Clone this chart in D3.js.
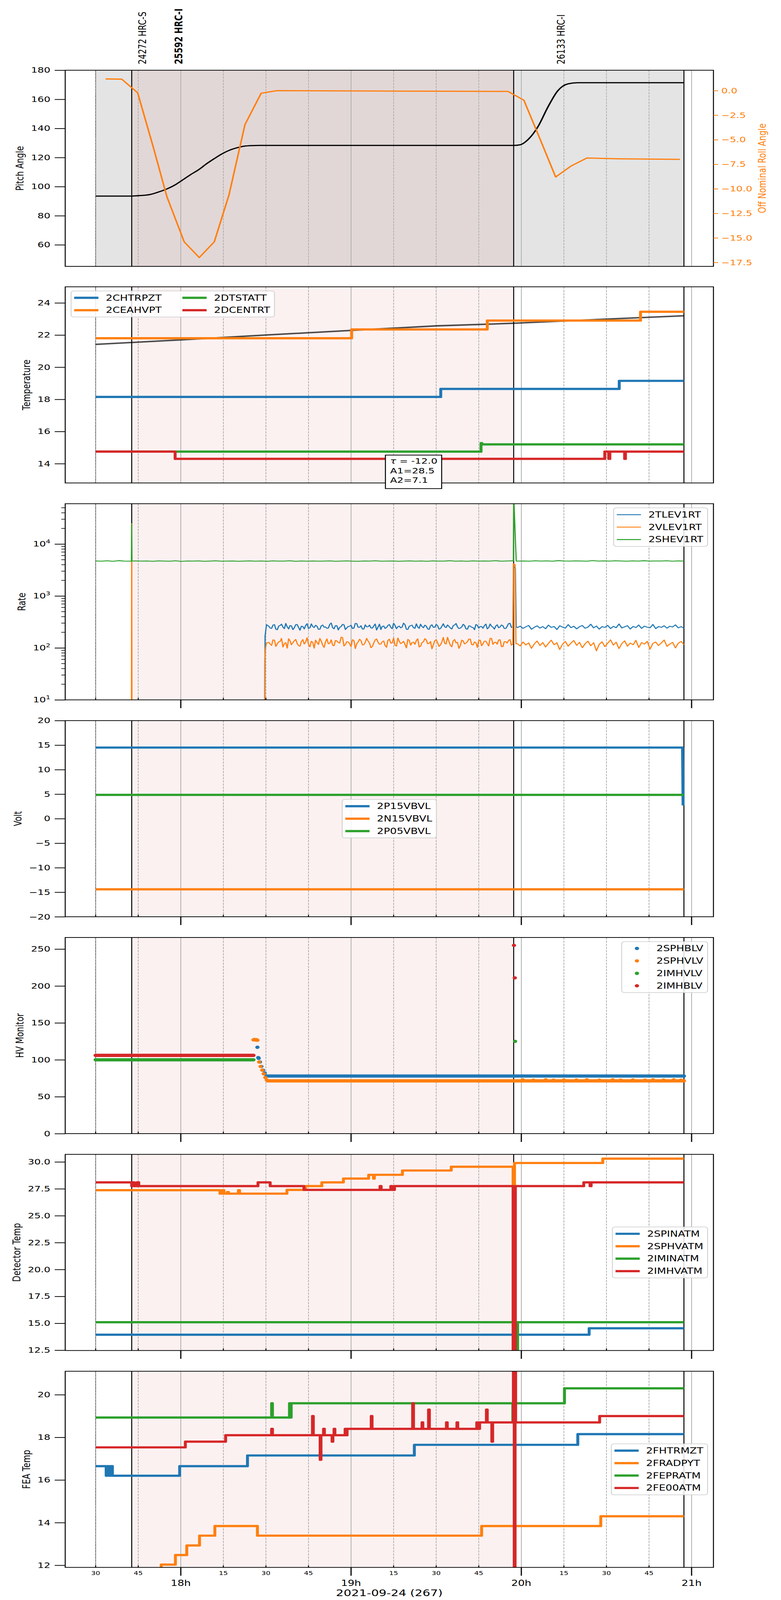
<!DOCTYPE html>
<html><head><meta charset="utf-8">
<script src="https://cdn.jsdelivr.net/npm/d3@7/dist/d3.min.js"></script>
<style>html,body{margin:0;padding:0;background:#fff;overflow:hidden}svg{display:block}</style>
</head><body><div id="chart"></div>
<script>
// ================= DATA (times in minutes after 17:00 on 2021-09-24) =================
const xMajorTicks=[60,120,180,240];
const xMajorLabels=["18h","19h","20h","21h"];
const xMinorTicks=[30,45,75,90,105,135,150,165,195,210,225];
const xMinorLabels=["30","45","15","30","45","15","30","45","15","30","45"];
const xAxisTitle="2021-09-24 (267)";

const obsidNames=["24272 HRC-S","25592 HRC-I","26133 HRC-I"];
const obsidTimes=[46.4,59.2,193.9];
const obsidBold=[false,true,false];

const dataStart=30, obsLineTimes=[42.7,177.3,237.3];
const shadeGrey=[30,237.3];
const shadePink=[42.7,177.3];

// Panel 1 : Pitch / Off nominal roll
const pitch=[[30,93.5],[42.6,93.5],[45.0,93.8],[48.95,94.5],[52,96.2],[55.09,98.4],[58,101.2],[60.35,104.2],[63.5,108.3],[66.5,111.9],[69,115.6],[71.76,119.2],[74.5,122.5],[77.03,124.9],[80,126.8],[82.3,127.8],[85,128.2],[87.56,128.3],[177.3,128.3],[179.7,128.8],[182.3,132.2],[185.9,141.3],[189.4,154.8],[192.9,166],[196.4,170.6],[199.9,171.4],[237.3,171.4]];
const roll=[[33.5,1.19],[39.2,1.17],[44.8,-0.22],[50.4,-5.85],[55.1,-10.8],[61.2,-15.4],[66.5,-17.0],[71.8,-15.4],[77.0,-10.6],[82.6,-3.47],[88.3,-0.27],[93.9,0.0],[120,-0.03],[150,-0.06],[175.3,-0.08],[180.9,-0.97],[186.7,-5.0],[192.1,-8.8],[197.4,-7.7],[203.1,-6.86],[213.9,-6.94],[225,-6.97],[235.9,-7.0]];
const pitchTicks=[60,80,100,120,140,160,180];
const rollTicks=[0,-2.5,-5,-7.5,-10,-12.5,-15,-17.5];

// Panel 2 : Temperature
const chtrpzt=[[30,18.15],[151.6,18.65],[214.5,19.15],[237.3,19.15]];
const ceahvpt=[[30,21.8],[120.2,22.35],[168,22.9],[222,23.45],[237.3,23.45]];
const dtstatt=[[30,14.75],[165.8,15.28],[166.1,15.2],[237.3,15.2]];
const dcentrt=[[30,14.75],[58,14.3],[209.4,14.75],[210.8,14.3],[211.2,14.75],[216.4,14.3],[216.7,14.75],[237.3,14.75]];
const tempFit=[[30,21.42],[60,21.7],[90,22.0],[120,22.29],[150,22.57],[177,22.73],[210,22.99],[237.3,23.2]];
const fitNote=["= -12.0","A1=28.5","A2=7.1"];
const tempTicks=[14,16,18,20,22,24];

// Panel 3 : Rate
const tlevA=[262,238,281,224,270,251,296,232,265,244,283,219,258,271,236,290,247,262,229,276,254,241,302,233,268,249,285,226,259,273,240,294,250,231,278,256,243,265,221,287,260,237,272,248,299,234,263,252,280,227,269,245,291,238,257,274,232,266,249,284,230,261,255,277,242,268,295,236,253,271,229,263,247,282,240,258,270,233,289,251,264,244,276,237,260,298,255];
const tlevA2=[241,276,229,263,287,235,254,270,225,281,248,262,232,293,244,257,273,228,266,251,238,284,246,269,222,258,279,243,261,236,297,249,267,231,255,275,240,289,252,226,264,247,282,234,271,256,243,300,229,260,274,238,252,286,245,263,227,279,250,268,235,292,247,259,231,277,254,241,285,233,266,250,224,273,258,239,288,245,262,230,279,253,268,236,294,248];
const tlevB=[246,262,238,255,271,229,250,266,241,258,234,275,248,259,226,267,252,240,281,245,261,233,256,270,239,251,286,243,264,230,257,248,272,236,260,245,289,242,254,268,231,259,247,276,238,263,250,244,283,235,258,249,267,240,262,253,278,243,257,239];
const vlevA=[128,112,141,119,133,104,126,150,115,137,122,108,145,129,117,134,99,127,152,113,131,120,143,110,136,124,158,116,130,106,139,121,147,114,128,135,101,125,149,118,132,111,140,123,155,109,134,126,117,146,113,129,138,104,127,151,120,133,115,144,107,130,122,160,112,137,125,98,141,119,131,148,114,126,139,110,135,121,153,117,129,142,106,132,124,145,118];
const vlevA2=[118,143,107,131,152,121,99,137,126,146,111,133,119,157,105,128,141,116,135,102,149,123,113,139,127,161,109,132,120,144,97,130,138,115,153,124,106,142,129,118,136,103,147,125,112,155,121,134,100,140,127,117,150,108,131,143,122,96,138,126,114,159,119,133,105,145,128,111,137,124,148,116,130,102,141,121,135,109,152,127,118,144,106,132,139,113];
const vlevB=[121,109,130,114,125,98,119,136,111,127,104,122,141,115,126,93,118,133,108,124,139,112,128,101,120,135,110,126,88,117,131,106,123,143,113,129,97,121,137,108,124,115,140,102,127,118,134,95,122,130,111,125,142,107,119,128,100,123,133,116];
const shevVals=[4720,4680,4760,4650,4790,4700,4670,4740,4690,4710,4650,4730,4700,4680,4760,4640,4710,4690,4730,4660,4700,4750,4670,4690,4720,4650,4700,4740,4680,4710,4660,4730,4690,4700,4760,4650,4710,4680,4720,4670,4700,4740,4660,4690,4730,4680,4650,4710,4700,4760,4670,4690,4720,4660,4700,4740,4680,4710,4650,4730,4690,4700,4770,4680,4710,4660,4740,4690,4720,4700,4780,4670,4710,4750,4690,4720,4680,4760,4700,4730,4670,4790,4710,4690,4740,4720,4680,4800,4700,4730,4690,4760,4710,4680,4740,4700,4770,4690,4720,4710,4750,4680,4730,4700];
const tlevEvents=[[30,1],[89.5,1],[89.7,170],[90.2,280],[177.3,3700],[177.9,3400],[178.2,255]];
const vlevEvents=[[30,1],[42.6,1],[42.7,24500],[42.8,1],[89.5,1],[89.6,60],[89.8,95],[90.2,125],[177.2,4200],[177.8,4000],[178.1,120]];
const shevEvents=[[42.6,4700],[42.7,24000],[42.8,4700],[177.2,4700],[177.3,90000],[178.2,4700]];
const rateTicks=[10,100,1000,10000];

// Panel 4 : Volt
const p15vbvl=[[30,14.5],[236.8,14.5],[237.0,2.7]];
const n15vbvl=[[30,-14.4],[237.3,-14.4]];
const p05vbvl=[[30,4.85],[237.3,4.85]];
const voltTicks=[-20,-15,-10,-5,0,5,10,15,20];

// Panel 5 : HV Monitor (runs = [start,end,value] of continuous samples, pts = single samples)
const sphblvRuns=[[90.5,237.3,78]];
const sphblvPts=[[87.0,117],[87.3,103],[87.45,102],[87.9,97],[88.4,91],[89.0,86],[89.6,82],[90.2,78]];
const sphvlvRuns=[[90.6,237.3,71.5]];
const sphvlvPts=[[85.6,127],[85.9,127.6],[86.3,126.8],[86.7,127.3],[87.0,126.5],[87.6,97],[88.1,91],[88.7,86],[89.2,81],[89.8,76],[90.3,72.5],[180.5,72.8],[184.2,72.5],[188.6,72.9],[191.3,72.4],[195.0,72.7],[199.4,72.6],[203.1,72.9],[207.5,72.5],[212.2,72.8],[215.0,72.4],[219.3,72.7],[223.6,72.5],[226.4,72.9],[230.1,72.6],[233.7,72.8],[236.2,72.5]];
const imhvlvRuns=[[30,85.6,100]];
const imhvlvPts=[[177.8,125]];
const imhblvRuns=[[30,85.6,106]];
const imhblvPts=[[177.4,255],[177.7,211]];
const hvTicks=[0,50,100,150,200,250];

// Panel 6 : Detector Temp
const spinatm=[[30,13.94],[203.9,14.54],[237.3,14.54]];
const sphvatm=[[30,27.37],[73.8,27.05],[74.6,27.37],[75.2,27.05],[76.4,27.2],[76.8,27.05],[80.3,27.37],[80.7,27.05],[97.4,27.4],[104.0,27.75],[109.7,28.1],[117.3,28.45],[126.2,28.8],[127.9,28.45],[128.2,28.8],[138.1,29.2],[155.3,29.55],[177.1,27.6],[177.6,29.9],[208.7,30.3],[237.3,30.3]];
const iminatm=[[30,15.1],[178.4,10],[178.7,15.1],[237.3,15.1]];
const imhvatm=[[30,28.1],[42.7,27.75],[43.2,28.1],[43.6,27.75],[44.5,28.1],[45.2,27.75],[87.2,28.1],[91.5,27.75],[103.4,27.4],[130.2,27.75],[130.6,27.4],[134.0,27.75],[134.5,27.4],[135.3,27.75],[177.1,5],[177.9,27.75],[202.0,28.1],[204.2,27.75],[204.6,28.1],[237.3,28.1]];
const detTicks=[12.5,15,17.5,20,22.5,25,27.5,30];

// Panel 7 : FEA Temp
const fhtrmzt=[[30,16.65],[33.7,16.2],[34.1,16.65],[34.8,16.2],[35.3,16.65],[35.9,16.2],[59.6,16.65],[83.5,17.15],[142.3,17.65],[199.9,18.15],[237.3,18.15]];
const fradpyt=[[30,11.3],[53.1,12.03],[58.1,12.48],[62.1,12.93],[66.6,13.39],[72.0,13.84],[87.0,13.39],[166.0,13.84],[208.0,14.3],[237.3,14.3]];
const fepratm=[[30,18.93],[92.0,19.6],[92.3,18.93],[98.3,19.6],[98.6,18.93],[98.9,19.6],[177.0,18.7],[177.3,19.6],[195.2,20.3],[237.3,20.3]];
const fe00atm=[[30,17.53],[61.6,17.8],[75.8,18.1],[92.0,18.4],[92.3,18.1],[106.4,19.0],[106.7,18.1],[109.1,16.95],[109.4,18.1],[110.3,18.4],[110.6,18.1],[113.3,17.8],[113.6,18.1],[114.0,18.4],[114.3,18.1],[117.9,18.4],[118.3,18.1],[118.6,18.4],[127.1,19.0],[127.4,18.4],[141.7,19.6],[142.0,18.4],[145.0,18.7],[145.3,18.4],[147.3,19.3],[147.6,18.4],[153.6,18.7],[153.9,18.4],[157.3,18.7],[157.6,18.4],[164.3,18.7],[164.7,18.4],[165.3,18.7],[167.7,19.3],[168.0,18.7],[169.6,17.8],[169.9,18.7],[177.2,30],[177.5,0],[177.8,30],[178.0,18.7],[207.6,19.0],[237.3,19.0]];
const feaTicks=[12,14,16,18,20];

// ================= LAYOUT / STYLE =================
const W=2000,H=5400;
const FONT='"DejaVu Sans", Verdana, sans-serif';
const C={blue:"#1f77b4",orange:"#ff7f0e",green:"#2ca02c",red:"#d62728"};
const L={left:167,right:1827,tops:[237,968,1700,2432,3164,3896,4628],h:662,rightLabelX:1952};
// the drawing is laid out on a 2000x5400 canvas and fitted to whatever viewport the browser really offers
const vw=window.innerWidth||W, vh=window.innerHeight||H;
const svg=d3.select("#chart").append("svg").attr("viewBox",`0 0 ${W} ${H}`).attr("preserveAspectRatio","none")
  .attr("width",vw).attr("height",vh).style("background","#fff");
const x=d3.scaleLinear().domain([19.27,247.7]).range([L.left,L.right]);

function spread(t0,t1,vals){return vals.map((v,i)=>[t0+i*(t1-t0)/(vals.length-1),v]);}

function makePanel(i,greyShade){
  const top=L.tops[i],bottom=top+L.h;
  const g=svg.append("g");
  const cid="clip"+i;
  svg.append("clipPath").attr("id",cid).append("rect").attr("x",L.left).attr("y",top).attr("width",L.right-L.left).attr("height",L.h);
  const bg=g.append("g").attr("clip-path",`url(#${cid})`);
  const plot=g.append("g").attr("clip-path",`url(#${cid})`);
  const fg=g.append("g");
  if(greyShade) bg.append("rect").attr("x",x(shadeGrey[0])).attr("width",x(shadeGrey[1])-x(shadeGrey[0])).attr("y",top).attr("height",L.h).attr("fill","#e4e4e4");
  bg.append("rect").attr("x",x(shadePink[0])).attr("width",x(shadePink[1])-x(shadePink[0])).attr("y",top).attr("height",L.h).attr("fill","rgba(214,39,40,0.065)");
  xMajorTicks.forEach(t=>bg.append("line").attr("x1",x(t)).attr("x2",x(t)).attr("y1",top).attr("y2",bottom).attr("stroke","#b0b0b0").attr("stroke-width",2));
  xMinorTicks.forEach(t=>bg.append("line").attr("x1",x(t)).attr("x2",x(t)).attr("y1",top).attr("y2",bottom).attr("stroke","#b0b0b0").attr("stroke-width",2).attr("stroke-dasharray","7.4,3.2"));
  bg.append("line").attr("x1",x(dataStart)).attr("x2",x(dataStart)).attr("y1",top).attr("y2",bottom).attr("stroke","#000").attr("stroke-width",1.3).attr("stroke-dasharray","2.5,1.8");
  obsLineTimes.forEach(t=>bg.append("line").attr("x1",x(t)).attr("x2",x(t)).attr("y1",top).attr("y2",bottom).attr("stroke","#000").attr("stroke-width",2.5));
  return {i,g,bg,plot,fg,top,bottom};
}
function frame(p,xticks){
  p.fg.append("rect").attr("x",L.left).attr("y",p.top).attr("width",L.right-L.left).attr("height",L.h).attr("fill","none").attr("stroke","#000").attr("stroke-width",2.5);
  if(xticks){
    xMajorTicks.forEach(t=>p.fg.append("line").attr("x1",x(t)).attr("x2",x(t)).attr("y1",p.bottom).attr("y2",p.bottom+28).attr("stroke","#000").attr("stroke-width",3));
    xMinorTicks.forEach(t=>p.fg.append("line").attr("x1",x(t)).attr("x2",x(t)).attr("y1",p.bottom-7).attr("y2",p.bottom).attr("stroke","#000").attr("stroke-width",2.5));
  }
}
function yAxis(p,scale,ticks,fmt){
  const ax=d3.axisLeft(scale).tickValues(ticks).tickFormat(fmt).tickSize(27).tickPadding(11);
  const a=p.fg.append("g").attr("transform",`translate(${L.left},0)`).call(ax);
  a.select(".domain").remove();
  a.selectAll(".tick line").attr("stroke","#000").attr("stroke-width",2.5);
  a.selectAll(".tick text").attr("font-size",26).attr("font-family",FONT).attr("fill","#000");
  return a;
}
function yLabel(p,a,label){
  const bb=a.node().getBBox();
  const lx=L.left+bb.x-19, ly=(p.top+p.bottom)/2;
  p.fg.append("text").attr("transform",`translate(${lx},${ly}) rotate(-90)`).attr("text-anchor","middle").attr("font-size",27).attr("font-family",FONT).text(label);
}
function line(p,ys,pts,color,w,curve,opacity){
  p.plot.append("path").datum(pts).attr("d",d3.line().x(d=>x(d[0])).y(d=>ys(d[1])).curve(curve||d3.curveLinear))
    .attr("fill","none").attr("stroke",color).attr("stroke-width",w).attr("stroke-linejoin","round").attr("stroke-opacity",opacity==null?1:opacity);
}
function legend(p,loc,entries,opt){
  const ncol=opt.ncol||1, nrows=Math.ceil(entries.length/ncol);
  const g=p.fg.append("g");
  const box=g.append("rect").attr("rx",7).attr("fill","#fff").attr("fill-opacity",0.85).attr("stroke","#cccccc").attr("stroke-width",2);
  let colX=8, maxRight=0;
  for(let c=0;c<ncol;c++){
    let maxW=0;
    for(let r=0;r<nrows;r++){
      const k=c*nrows+r; if(k>=entries.length) break;
      const e=entries[k], cy=23+r*42;
      if(opt.marker) g.append("circle").attr("cx",colX+31).attr("cy",cy).attr("r",5.5).attr("fill",e[1]);
      else g.append("line").attr("x1",colX).attr("x2",colX+62).attr("y1",cy).attr("y2",cy).attr("stroke",e[1]).attr("stroke-width",opt.lw);
      const t=g.append("text").attr("x",colX+81).attr("y",cy+9.5).attr("font-size",27).attr("font-family",FONT).text(e[0]);
      maxW=Math.max(maxW,t.node().getComputedTextLength());
    }
    maxRight=colX+81+maxW; colX=maxRight+53;
  }
  const w=maxRight+11, h=46+42*(nrows-1);
  box.attr("width",w).attr("height",h);
  let bx,by; const midY=(p.top+p.bottom)/2, midX=(L.left+L.right)/2;
  if(loc==="upper left"){bx=L.left+15;by=p.top+14;}
  else if(loc==="upper right"){bx=L.right-15-w;by=p.top+14;}
  else if(loc==="center"){bx=midX-w/2;by=midY-h/2;}
  else {bx=L.right-15-w;by=midY-h/2;}
  g.attr("transform",`translate(${bx},${by})`);
}
const step=d3.curveStepAfter;

// ---------- obsid labels ----------
obsidNames.forEach((n,i)=>{
  svg.append("text").attr("transform",`translate(${x(obsidTimes[i])},217) rotate(-90)`).attr("dy","0.36em")
    .attr("font-size",27).attr("font-family",FONT).attr("font-weight",obsidBold[i]?"bold":"normal").text(n);
});

// ---------- Panel 1 ----------
{
  const p=makePanel(0,true);
  const yL=d3.scaleLinear().domain([45.2,180]).range([p.bottom,p.top]);
  const yR=d3.scaleLinear().domain([-17.9,2.08]).range([p.bottom,p.top]);
  line(p,yL,pitch,"#000",4,d3.curveMonotoneX);
  line(p,yR,roll,C.orange,4);
  frame(p,false);
  const a=yAxis(p,yL,pitchTicks,d3.format("d"));
  yLabel(p,a,"Pitch Angle");
  const ar=p.fg.append("g").attr("transform",`translate(${L.right},0)`).call(d3.axisRight(yR).tickValues(rollTicks).tickFormat(d3.format(".1f")).tickSize(12).tickPadding(8));
  ar.select(".domain").remove();
  ar.selectAll(".tick line").attr("stroke",C.orange).attr("stroke-width",2.5);
  ar.selectAll(".tick text").attr("font-size",26).attr("font-family",FONT).attr("fill",C.orange);
  p.fg.append("text").attr("transform",`translate(${L.rightLabelX},${(p.top+p.bottom)/2}) rotate(-90)`).attr("text-anchor","middle").attr("dy","0.35em")
    .attr("font-size",27).attr("font-family",FONT).attr("fill",C.orange).text("Off Nominal Roll Angle");
}
// ---------- Panel 2 ----------
{
  const p=makePanel(1,false);
  const y=d3.scaleLinear().domain([12.8,25]).range([p.bottom,p.top]);
  line(p,y,tempFit,"#000",5,d3.curveLinear,0.7);
  line(p,y,chtrpzt,C.blue,7.5,step);
  line(p,y,ceahvpt,C.orange,7.5,step);
  line(p,y,dtstatt,C.green,7.5,step);
  line(p,y,dcentrt,C.red,7.5,step);
  frame(p,false);
  const a=yAxis(p,y,tempTicks,d3.format("d"));
  yLabel(p,a,"Temperature");
  legend(p,"upper left",[["2CHTRPZT",C.blue],["2CEAHVPT",C.orange],["2DTSTATT",C.green],["2DCENTRT",C.red]],{ncol:2,lw:7.5});
  const bx=987,by=1536;
  p.fg.append("rect").attr("x",bx).attr("y",by).attr("width",144).attr("height",113).attr("fill","#fff").attr("stroke","#000").attr("stroke-width",2.5);
  const t0=p.fg.append("text").attr("x",bx+12).attr("y",by+29).attr("font-size",26).attr("font-family",FONT);
  t0.append("tspan").attr("font-style","italic").text("τ");
  t0.append("tspan").text(" "+fitNote[0]);
  p.fg.append("text").attr("x",bx+12).attr("y",by+62).attr("font-size",26).attr("font-family",FONT).text(fitNote[1]);
  p.fg.append("text").attr("x",bx+12).attr("y",by+94).attr("font-size",26).attr("font-family",FONT).text(fitNote[2]);
}
// ---------- Panel 3 ----------
{
  const p=makePanel(2,false);
  const y=d3.scaleLog().domain([10,59800]).range([p.bottom,p.top]);
  const tlev=tlevEvents.concat(spread(91,177,tlevA),spread(91.5,176.5,tlevA2),spread(178.6,237.3,tlevB)).sort((a,b)=>a[0]-b[0]);
  const vlev=vlevEvents.concat(spread(91,177,vlevA),spread(91.5,176.5,vlevA2),spread(178.6,237.3,vlevB)).sort((a,b)=>a[0]-b[0]);
  const shev=spread(30,237.3,shevVals).concat(shevEvents).sort((a,b)=>a[0]-b[0]);
  line(p,y,tlev,C.blue,3);
  line(p,y,vlev,C.orange,3);
  line(p,y,shev,C.green,3);
  frame(p,true);
  const a=yAxis(p,y,rateTicks,d=>"");
  a.selectAll(".tick text").each(function(d){
    const t=d3.select(this); t.text(null);
    t.append("tspan").text("10");
    t.append("tspan").attr("dy","-0.6em").attr("font-size",18).text(Math.round(Math.log10(d)));
  });
  const minors=[];
  [10,100,1000,10000].forEach(b=>{for(let k=2;k<=9;k++){const v=b*k; if(v<59800) minors.push(v);}});
  minors.forEach(v=>p.fg.append("line").attr("x1",L.left-10).attr("x2",L.left).attr("y1",y(v)).attr("y2",y(v)).attr("stroke","#000").attr("stroke-width",2));
  yLabel(p,a,"Rate");
  legend(p,"upper right",[["2TLEV1RT",C.blue],["2VLEV1RT",C.orange],["2SHEV1RT",C.green]],{lw:3});
}
// ---------- Panel 4 ----------
{
  const p=makePanel(3,false);
  const y=d3.scaleLinear().domain([-20,20]).range([p.bottom,p.top]);
  line(p,y,p15vbvl,C.blue,7.5);
  line(p,y,n15vbvl,C.orange,7.5);
  line(p,y,p05vbvl,C.green,7.5);
  frame(p,true);
  const a=yAxis(p,y,voltTicks,d3.format("d"));
  yLabel(p,a,"Volt");
  legend(p,"center",[["2P15VBVL",C.blue],["2N15VBVL",C.orange],["2P05VBVL",C.green]],{lw:7.5});
}
// ---------- Panel 5 ----------
{
  const p=makePanel(4,false);
  const y=d3.scaleLinear().domain([0,265.7]).range([p.bottom,p.top]);
  const series=[[sphblvRuns,sphblvPts,C.blue],[sphvlvRuns,sphvlvPts,C.orange],[imhvlvRuns,imhvlvPts,C.green],[imhblvRuns,imhblvPts,C.red]];
  series.forEach(([runs,pts,col])=>{
    runs.forEach(r=>p.plot.append("line").attr("x1",x(r[0])).attr("x2",x(r[1])).attr("y1",y(r[2])).attr("y2",y(r[2])).attr("stroke",col).attr("stroke-width",11).attr("stroke-linecap","round"));
    p.plot.selectAll(null).data(pts).enter().append("circle").attr("cx",d=>x(d[0])).attr("cy",d=>y(d[1])).attr("r",5.5).attr("fill",col);
  });
  frame(p,true);
  const a=yAxis(p,y,hvTicks,d3.format("d"));
  yLabel(p,a,"HV Monitor");
  legend(p,"upper right",[["2SPHBLV",C.blue],["2SPHVLV",C.orange],["2IMHVLV",C.green],["2IMHBLV",C.red]],{marker:true});
}
// ---------- Panel 6 ----------
{
  const p=makePanel(5,false);
  const y=d3.scaleLinear().domain([12.47,30.7]).range([p.bottom,p.top]);
  line(p,y,spinatm,C.blue,7.5,step);
  line(p,y,sphvatm,C.orange,7.5,step);
  line(p,y,iminatm,C.green,7.5,step);
  line(p,y,imhvatm,C.red,7.5,step);
  frame(p,true);
  const a=yAxis(p,y,detTicks,d3.format(".1f"));
  yLabel(p,a,"Detector Temp");
  legend(p,"center right",[["2SPINATM",C.blue],["2SPHVATM",C.orange],["2IMINATM",C.green],["2IMHVATM",C.red]],{lw:7.5});
}
// ---------- Panel 7 ----------
{
  const p=makePanel(6,false);
  const y=d3.scaleLinear().domain([11.9,21.1]).range([p.bottom,p.top]);
  line(p,y,fhtrmzt,C.blue,7.5,step);
  line(p,y,fradpyt,C.orange,7.5,step);
  line(p,y,fepratm,C.green,7.5,step);
  line(p,y,fe00atm,C.red,7.5,step);
  frame(p,true);
  const a=yAxis(p,y,feaTicks,d3.format("d"));
  yLabel(p,a,"FEA Temp");
  legend(p,"center right",[["2FHTRMZT",C.blue],["2FRADPYT",C.orange],["2FEPRATM",C.green],["2FE00ATM",C.red]],{lw:7.5});
  xMinorTicks.forEach((t,i)=>p.fg.append("text").attr("x",x(t)).attr("y",p.bottom+25).attr("text-anchor","middle").attr("font-size",18).attr("font-family",FONT).text(xMinorLabels[i]));
  xMajorTicks.forEach((t,i)=>p.fg.append("text").attr("x",x(t)).attr("y",p.bottom+63).attr("text-anchor","middle").attr("font-size",27).attr("font-family",FONT).text(xMajorLabels[i]));
  p.fg.append("text").attr("x",(L.left+L.right)/2).attr("y",p.bottom+97).attr("text-anchor","middle").attr("font-size",31).attr("font-family",FONT).text(xAxisTitle);
}
</script>
</body></html>
